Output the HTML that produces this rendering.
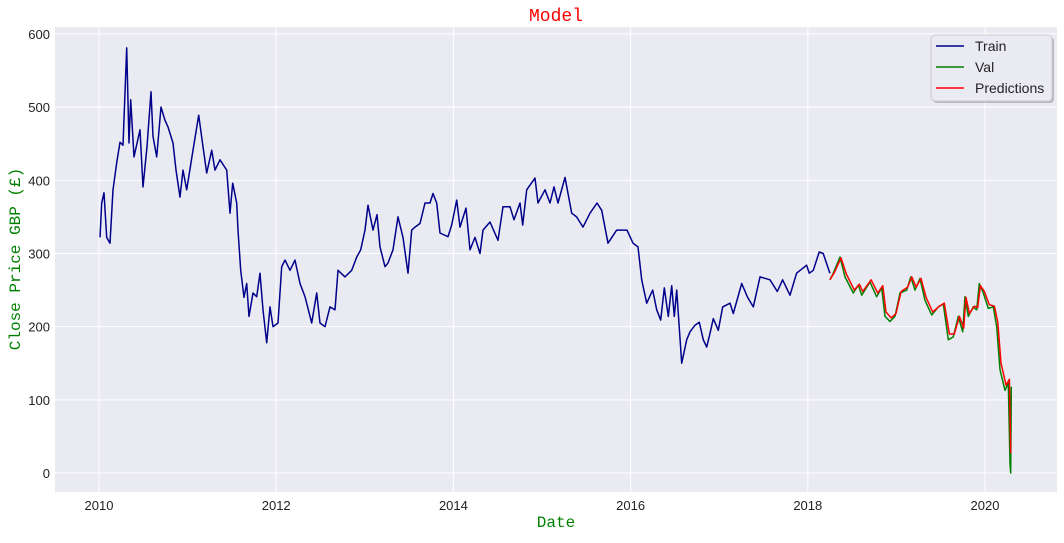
<!DOCTYPE html>
<html><head><meta charset="utf-8"><style>
body{margin:0;background:#fff;}
svg text{font-family:"Liberation Sans",sans-serif;}
</style></head><body>
<svg id="chart" width="1064" height="538" xmlns="http://www.w3.org/2000/svg">
<rect x="55" y="27" width="1002" height="465" fill="#eaeaf2"/>
<g id="grid"></g><g id="ticks"></g><g id="series"></g>
<text x="556" y="21" text-anchor="middle" fill="red" style="font-family:'Liberation Mono',monospace;font-size:18px">Model</text>
<text x="556" y="527" text-anchor="middle" fill="green" style="font-family:'Liberation Mono',monospace;font-size:16px">Date</text>
<text transform="translate(20,259) rotate(-90)" text-anchor="middle" fill="green" style="font-family:'Liberation Mono',monospace;font-size:16px">Close Price GBP (£)</text>
<g>
<rect x="933" y="37" width="121" height="66" rx="4" fill="#888" opacity="0.5"/>
<rect x="931" y="35" width="121" height="66" rx="4" fill="#eaeaf2" stroke="#ccc"/>
<line x1="936" y1="46" x2="964" y2="46" stroke="darkblue" stroke-width="1.5"/>
<text x="975" y="51" font-size="14" fill="#222">Train</text>
<line x1="936" y1="67" x2="964" y2="67" stroke="green" stroke-width="1.5"/>
<text x="975" y="72" font-size="14" fill="#222">Val</text>
<line x1="936" y1="88" x2="964" y2="88" stroke="red" stroke-width="1.5"/>
<text x="975" y="93" font-size="14" fill="#222">Predictions</text>
</g>
</svg>
<script>
const xTicks=[2010,2012,2014,2016,2018,2020];
const yTicks=[0,100,200,300,400,500,600];
// years since 2010
const trainT=[.011,.030,.056,.087,.124,.158,.200,.237,.271,.313,.339,.358,.395,.463,.497,.542,.587,.609,.651,.700,.745,.779,.835,.869,.914,.948,.990,1.061,1.125,1.174,1.216,1.272,1.309,1.366,1.441,1.479,1.509,1.554,1.569,1.599,1.637,1.667,1.693,1.738,1.780,1.817,1.851,1.893,1.930,1.964,2.020,2.062,2.099,2.156,2.212,2.269,2.325,2.401,2.457,2.494,2.551,2.607,2.664,2.698,2.777,2.852,2.909,2.954,3.002,3.036,3.093,3.138,3.172,3.228,3.262,3.318,3.375,3.431,3.488,3.529,3.567,3.623,3.679,3.736,3.770,3.811,3.849,3.939,3.981,4.037,4.074,4.142,4.187,4.244,4.300,4.334,4.413,4.503,4.560,4.639,4.684,4.752,4.782,4.827,4.921,4.955,5.034,5.090,5.135,5.181,5.260,5.335,5.391,5.463,5.542,5.621,5.674,5.745,5.843,5.959,6.027,6.084,6.125,6.182,6.249,6.295,6.340,6.380,6.425,6.464,6.493,6.520,6.577,6.633,6.670,6.727,6.775,6.820,6.859,6.904,6.933,6.990,7.040,7.122,7.159,7.254,7.317,7.385,7.460,7.573,7.656,7.716,7.799,7.874,7.987,8.017,8.062,8.129,8.174,8.250];
const trainV=[322,369,383,322,314,387,424,452,448,581,451,510,432,469,391,446,521,460,432,500,482,473,451,414,377,414,387,441,489,446,410,441,414,428,414,355,396,369,332,277,240,259,214,246,241,273,223,178,227,200,205,282,291,277,291,259,241,205,246,205,200,227,223,277,268,277,295,305,332,366,332,353,309,282,287,305,350,322,273,332,336,341,369,369,382,369,328,323,339,373,336,362,305,322,300,332,343,318,364,364,346,369,339,387,403,369,387,369,391,369,404,355,350,336,355,369,359,314,332,332,314,309,264,232,250,223,209,253,214,256,214,250,150,182,193,202,206,182,172,195,211,195,227,232,218,259,241,227,268,264,248,264,243,273,284,273,277,302,300,273,259,264];
const valT=[8.250,8.288,8.363,8.420,8.513,8.570,8.608,8.702,8.777,8.834,8.871,8.928,8.984,9.041,9.116,9.162,9.210,9.266,9.323,9.398,9.473,9.529,9.586,9.642,9.699,9.748,9.774,9.812,9.868,9.906,9.936,9.981,10.037,10.094,10.132,10.169,10.226,10.263,10.282,10.290,10.297];
const valV=[264,273,295,268,246,257,243,261,241,253,214,207,214,246,250,268,250,266,236,216,227,231,182,186,214,193,241,214,227,223,259,246,225,227,200,141,113,123,14,0,118];
const predT=[8.250,8.300,8.375,8.435,8.525,8.582,8.620,8.714,8.789,8.846,8.883,8.940,8.996,9.053,9.128,9.174,9.222,9.278,9.335,9.410,9.485,9.541,9.598,9.654,9.711,9.760,9.786,9.824,9.880,9.918,9.948,9.993,10.049,10.106,10.144,10.181,10.238,10.275,10.290];
const predV=[264,274,294,272,250,258,248,264,246,256,220,212,218,248,254,268,254,266,240,220,228,232,190,190,214,198,240,218,228,226,256,248,230,228,206,150,120,128,27];
const X=t=>99+(t-2010)*88.6, Xo=o=>99+o*88.6, Y=v=>473-v*0.7317;
const NS="http://www.w3.org/2000/svg";
function mk(tag,parent,attrs){const e=document.createElementNS(NS,tag);for(const k in attrs)e.setAttribute(k,attrs[k]);parent.appendChild(e);return e;}
const grid=document.getElementById('grid'),ticks=document.getElementById('ticks'),series=document.getElementById('series');
xTicks.forEach(t=>{const l=mk('line',grid,{x1:X(t),x2:X(t),y1:27,y2:492,stroke:'#fff','stroke-width':1});


const tx=mk('text',ticks,{x:X(t),y:510,'text-anchor':'middle','font-size':13,fill:'#222'});tx.textContent=t;

});
yTicks.forEach(v=>{const l=mk('line',grid,{x1:55,x2:1057,y1:Y(v),y2:Y(v),stroke:'#fff','stroke-width':1});


const tx=mk('text',ticks,{x:50,y:Y(v)+5,'text-anchor':'end','font-size':13,fill:'#222'});tx.textContent=v;

});
function line(ts,vs,color){return mk('polyline',series,{points:ts.map((o,i)=>Xo(o).toFixed(1)+','+Y(vs[i]).toFixed(1)).join(' '),fill:'none',stroke:color,'stroke-width':1.5,'stroke-linejoin':'round'});}
const tl=line(trainT,trainV,'darkblue');


const vl=line(valT,valV,'green');


const pl=line(predT,predV,'red');


</script>
</body></html>
